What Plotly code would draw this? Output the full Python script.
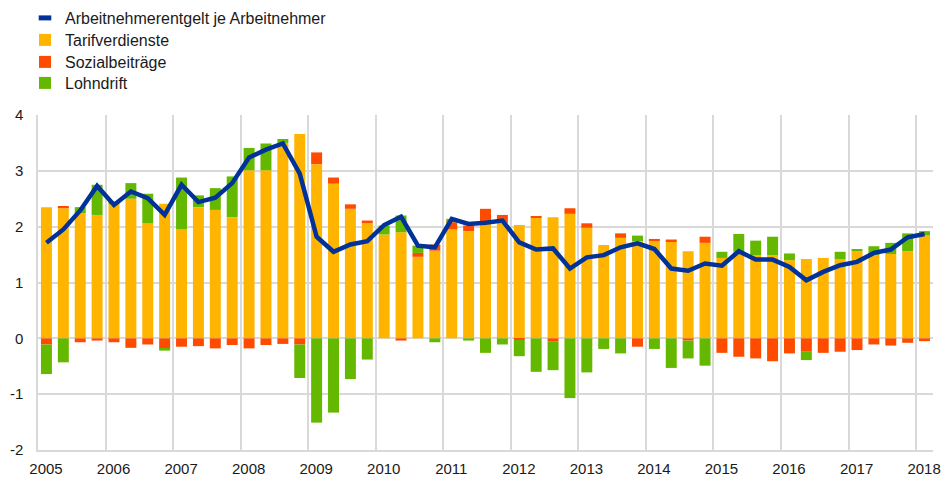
import plotly.graph_objects as go

years = list(range(2005, 2019))
quarters = [f"{y}Q{q}" for y in range(2005, 2019) for q in range(1, 5)][:53]
y_ticks = [-2, -1, 0, 1, 2, 3, 4]

tarif = [2.35, 2.33, 2.24, 2.21, 2.40, 2.50, 2.06, 2.41, 1.95, 2.35, 2.30, 2.17,
         3.01, 3.01, 3.50, 3.66, 3.12, 2.77, 2.32, 2.08, 1.86, 1.90, 1.46, 1.57,
         1.95, 1.92, 2.06, 2.07, 2.03, 2.16, 2.17, 2.23, 1.98, 1.67, 1.80, 1.74,
         1.76, 1.74, 1.56, 1.71, 1.44, 1.55, 1.49, 1.49, 1.40, 1.42, 1.44, 1.42,
         1.57, 1.49, 1.51, 1.56, 1.85]
sozial = [-0.11, 0.04, -0.07, -0.04, -0.07, -0.17, -0.11, -0.19, -0.15, -0.14, -0.18, -0.12,
          -0.18, -0.12, -0.10, -0.11, 0.21, 0.11, 0.08, 0.03, 0.00, -0.04, 0.07, 0.11,
          0.13, 0.10, 0.26, 0.14, -0.03, 0.02, -0.05, 0.10, 0.08, 0.00, 0.08, -0.15,
          0.02, 0.03, -0.04, 0.11, -0.26, -0.33, -0.36, -0.41, -0.27, -0.24, -0.26, -0.24,
          -0.21, -0.11, -0.13, -0.08, -0.05]
lohndrift = [-0.53, -0.43, 0.11, 0.54, 0.05, 0.28, 0.53, -0.03, 0.93, 0.21, 0.39, 0.73,
             0.40, 0.48, 0.07, -0.60, -1.51, -1.33, -0.73, -0.38, 0.16, 0.30, 0.13, -0.07,
             0.06, -0.04, -0.26, -0.11, -0.29, -0.60, -0.52, -1.07, -0.61, -0.19, -0.27, 0.10,
             -0.19, -0.53, -0.32, -0.49, 0.11, 0.32, 0.26, 0.33, 0.12, -0.15, 0.00, 0.13,
             0.02, 0.16, 0.20, 0.32, 0.07]
entgelt = [1.71, 1.95, 2.29, 2.73, 2.39, 2.63, 2.51, 2.21, 2.75, 2.44, 2.52, 2.78,
           3.24, 3.38, 3.49, 2.95, 1.82, 1.55, 1.68, 1.74, 2.03, 2.18, 1.66, 1.63,
           2.14, 2.05, 2.07, 2.11, 1.72, 1.59, 1.61, 1.25, 1.45, 1.49, 1.63, 1.70,
           1.60, 1.25, 1.21, 1.34, 1.30, 1.56, 1.41, 1.41, 1.28, 1.04, 1.19, 1.31,
           1.37, 1.53, 1.59, 1.81, 1.87]

# numeric x: centre of each quarter
xq = [int(q[:4]) + (int(q[-1]) - 1) * 0.25 + 0.125 for q in quarters]

BLUE = "#003299"
ORANGE = "#FFB400"
RED = "#FF4B00"
GREEN = "#65B800"
GRID = "#d9d9d9"
TXT = "#1a1a1a"
FONT = "Liberation Sans, Arial, sans-serif"

fig = go.Figure()
fig.add_trace(go.Bar(x=xq, y=tarif, name="Tarifverdienste", legend="legend2",
                     marker=dict(color=ORANGE, line=dict(width=0))))
fig.add_trace(go.Bar(x=xq, y=sozial, name="Sozialbeiträge", legend="legend3",
                     marker=dict(color=RED, line=dict(width=0))))
fig.add_trace(go.Bar(x=xq, y=lohndrift, name="Lohndrift", legend="legend4",
                     marker=dict(color=GREEN, line=dict(width=0))))
fig.add_trace(go.Scatter(x=xq, y=entgelt, mode="lines", name="Arbeitnehmerentgelt je Arbeitnehmer",
                         line=dict(color=BLUE, width=4.5), showlegend=False))
fig.add_trace(go.Scatter(x=[None], y=[None], mode="markers", name="Arbeitnehmerentgelt je Arbeitnehmer",
                         legend="legend",
                         marker=dict(symbol="line-ew", size=9, color=BLUE, line=dict(width=5, color=BLUE)),
                         hoverinfo="skip"))

row_y = [18, 40, 62, 83]
leg = {}
for i, key in enumerate(["legend", "legend2", "legend3", "legend4"]):
    leg[key] = dict(xref="container", yref="container", x=25 / 943, y=1 - row_y[i] / 477,
                    xanchor="left", yanchor="middle", font=dict(size=16, color=TXT, family=FONT),
                    bgcolor="rgba(0,0,0,0)", itemclick=False, itemdoubleclick=False)

fig.update_layout(
    width=943, height=477,
    margin=dict(l=38, r=10, t=115, b=27, autoexpand=False),
    barmode="relative",
    bargap=0.35,
    plot_bgcolor="white",
    paper_bgcolor="white",
    font=dict(family=FONT, size=15, color=TXT),
    showlegend=True,
    xaxis=dict(range=[2005, 2018.25], tickmode="array", tickvals=years,
               ticktext=[str(y) for y in years], ticklabelshift=8,
               showgrid=True, gridcolor=GRID, gridwidth=1.5, zeroline=False,
               showline=True, linecolor=GRID, linewidth=1.5, ticks="", ticklabelstandoff=4),
    yaxis=dict(range=[-2, 4], tickmode="array", tickvals=y_ticks,
               ticktext=[str(v) for v in y_ticks],
               showgrid=True, gridcolor=GRID, gridwidth=1.5,
               zeroline=False, showline=True, linecolor=GRID, linewidth=1.5, ticks="",
               ticklabelstandoff=10),
    **leg,
)

fig.write_html("out.html", config={"displayModeBar": False},
               post_script="document.body.style.margin='0';document.body.style.overflow='hidden';")
